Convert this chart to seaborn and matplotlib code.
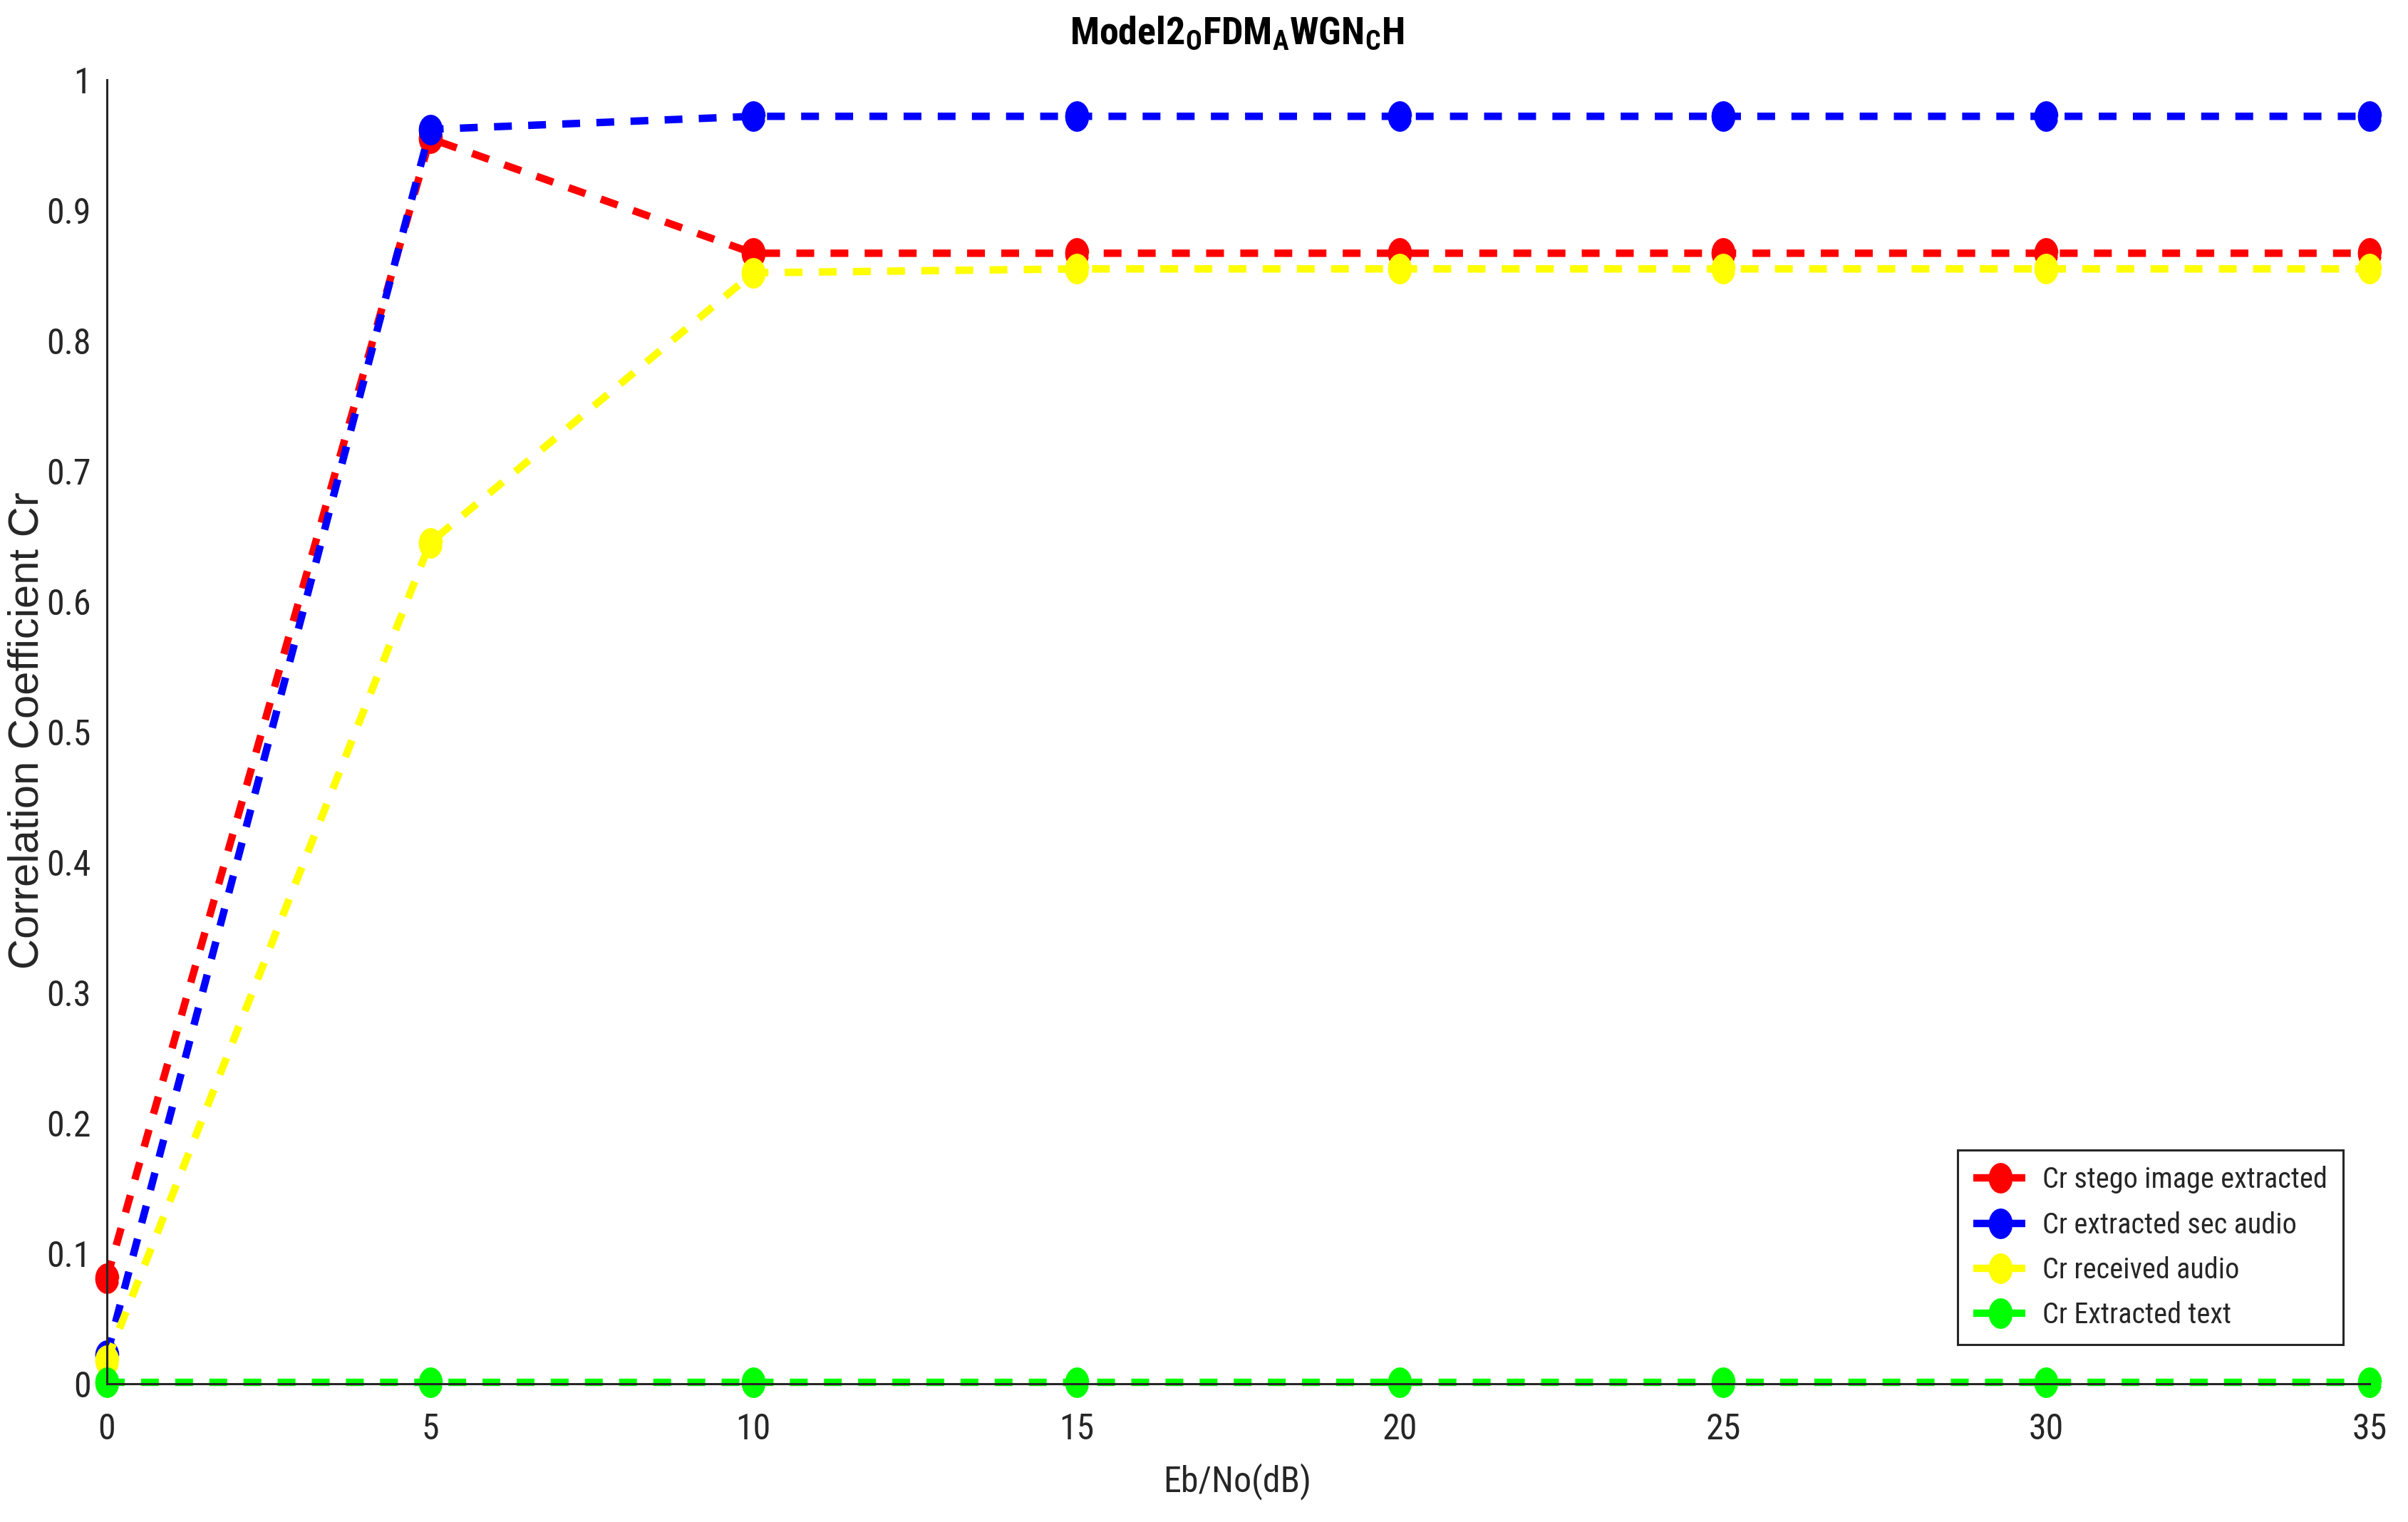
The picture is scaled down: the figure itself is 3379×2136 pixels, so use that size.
import numpy as np
import pandas as pd
import matplotlib
matplotlib.use('Agg')
import matplotlib.pyplot as plt
import seaborn as sns
from matplotlib import font_manager
from matplotlib.ticker import FixedLocator, FixedFormatter

# data
ebno = [0, 5, 10, 15, 20, 25, 30, 35]
cr_stego_image = [0.081, 0.955, 0.867, 0.867, 0.867, 0.867, 0.867, 0.867]
cr_sec_audio = [0.022, 0.962, 0.972, 0.972, 0.972, 0.972, 0.972, 0.972]
cr_received_audio = [0.018, 0.645, 0.852, 0.855, 0.855, 0.855, 0.855, 0.855]
cr_extracted_text = [0.001, 0.001, 0.001, 0.001, 0.001, 0.001, 0.001, 0.001]

labels = ['Cr stego image extracted', 'Cr extracted sec audio',
          'Cr received audio', 'Cr Extracted text']
colors = ['#ff0000', '#0000ff', '#ffff00', '#00ff00']
yticks = [0, 0.1, 0.2, 0.3, 0.4, 0.5, 0.6, 0.7, 0.8, 0.9, 1]
ytick_labels = ['0', '0.1', '0.2', '0.3', '0.4', '0.5', '0.6', '0.7', '0.8', '0.9', '1']
xticks = [0, 5, 10, 15, 20, 25, 30, 35]

sns.set_style('white')
installed = {f.name for f in font_manager.fontManager.ttflist}
narrow = None
for cand in ['Liberation Sans Narrow', 'Arial Narrow', 'Roboto Condensed']:
    if cand in installed:
        narrow = cand
        break
if narrow is not None:
    txt_font = narrow
    tick_fs, leg_fs, title_fs, xlab_fs = 36, 29, 39, 36
else:
    # no condensed face: shrink regular Arial-like text to keep widths
    txt_font = 'Liberation Sans'
    tick_fs, leg_fs, title_fs, xlab_fs = 30, 27.5, 33, 33
plt.rcParams['font.family'] = [txt_font, 'DejaVu Sans']
plt.rcParams['mathtext.fontset'] = 'custom'
plt.rcParams['mathtext.rm'] = txt_font
plt.rcParams['mathtext.bf'] = txt_font + ':bold'

fig = plt.figure(figsize=(33.8, 21.36), dpi=100)
ax = fig.add_axes([150 / 3380, 1 - 1942 / 2136, 3175 / 3380, 1830 / 2136])

# slightly tall ellipse marker (reference looks vertically stretched)
t = np.linspace(0, 2 * np.pi, 25)[:-1]
ell = list(zip(0.78 * np.cos(t), np.sin(t)))

series = [cr_stego_image, cr_sec_audio, cr_received_audio, cr_extracted_text]
for vals, lab, col in zip(series, labels, colors):
    df = pd.DataFrame({'ebno': ebno, 'cr': vals})
    sns.lineplot(data=df, x='ebno', y='cr', ax=ax, color=col, label=lab,
                 linewidth=7.5, linestyle=(0, (2.4, 2.2)),
                 marker=ell, markersize=30, markerfacecolor=col,
                 markeredgecolor=col, markeredgewidth=1, clip_on=False)

ax.set_xlim(0, 35)
ax.set_ylim(0, 1)
ax.xaxis.set_major_locator(FixedLocator(xticks))
ax.set_xticklabels([str(v) for v in xticks])
ax.yaxis.set_major_locator(FixedLocator(yticks))
ax.yaxis.set_major_formatter(FixedFormatter(ytick_labels))
ax.set_xlabel('')
ax.set_ylabel('')

for side in ['top', 'right']:
    ax.spines[side].set_visible(False)
for side in ['left', 'bottom']:
    ax.spines[side].set_color('#262626')
    ax.spines[side].set_linewidth(2.2)

ax.tick_params(axis='both', direction='in', length=24, width=2.2,
               color='#262626', labelcolor='#262626', labelsize=tick_fs)
ax.tick_params(axis='y', pad=16)
ax.tick_params(axis='x', pad=29)

leg = ax.legend(loc='lower right', bbox_to_anchor=(0.9883, 0.030),
                borderaxespad=0, fontsize=leg_fs, handlelength=1.9,
                handletextpad=0.5, labelspacing=0.6, borderpad=0.55,
                fancybox=False, framealpha=1, edgecolor='#262626')
leg.get_frame().set_linewidth(2.2)

fig.text(1736 / 3380, 1 - 62 / 2136, r'$\mathbf{Model2_{O}FDM_{A}WGN_{C}H}$',
         ha='center', va='baseline', fontsize=title_fs, color='black')
fig.text(1736 / 3380, 1 - 2093 / 2136, 'Eb/No(dB)', ha='center', va='baseline',
         fontsize=xlab_fs, color='#262626')
fig.text(38 / 3380, 1 - 1025 / 2136, 'Correlation Coefficient Cr', rotation=90,
         ha='center', va='center', fontsize=43, color='#262626',
         family=['Liberation Sans', 'DejaVu Sans'])

fig.savefig('out.png', dpi=100, facecolor='white')
